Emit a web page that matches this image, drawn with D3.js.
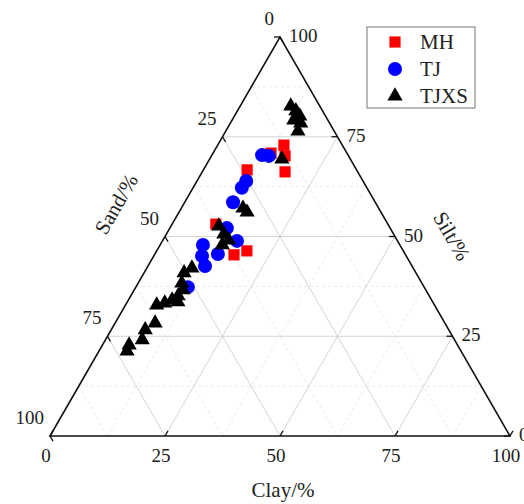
<!DOCTYPE html>
<html>
<head>
<meta charset="utf-8">
<script src="https://cdn.jsdelivr.net/npm/d3@7"></script>
<style>
    body { margin: 0; background: #fff; }
    svg text { font-family: "Liberation Serif", "DejaVu Serif", serif; fill: #222; }
</style>
</head>
<body>
<div id="ternary"></div>
<script>
// sample values (percent)
const mhClay = [14.4, 16.0, 18.0, 12.6, 9.5, 9.5, 17.3, 19.6];
const mhSilt = [72.9, 70.2, 66.2, 70.9, 66.7, 53.1, 45.4, 46.4];
const mhSand = [12.7, 13.8, 15.8, 16.5, 23.8, 37.4, 37.3, 34.0];

const tjClay = [10.9, 12.5, 10.7, 10.6, 10.5, 12.4, 16.2, 9.3, 10.5, 12.4, 13.7, 11.3];
const tjSilt = [70.4, 70.2, 63.9, 62.2, 58.6, 52.1, 48.9, 47.9, 45.1, 42.6, 45.6, 37.3];
const tjSand = [18.7, 17.3, 25.4, 27.2, 30.9, 35.5, 34.9, 42.8, 44.4, 45.0, 40.7, 51.4];

const tjxsClay = [11.0, 12.7, 14.2, 13.4, 15.3, 15.7, 15.7, 13.4, 14.8, 10.4, 12.5, 14.3, 13.5, 9.8,
    8.7, 9.5, 10.6, 10.3, 9.5, 11.0, 8.3, 6.8, 8.7, 7.4, 8.0, 5.8, 6.1];
const tjxsSilt = [82.7, 81.5, 80.2, 79.2, 78.4, 76.4, 69.4, 57.1, 56.1, 52.6, 50.6, 49.1, 47.9, 42.1,
    40.9, 38.3, 36.6, 35.1, 34.1, 33.6, 33.3, 32.8, 28.3, 26.6, 24.1, 22.8, 21.3];
const tjxsSand = [6.3, 5.8, 5.6, 7.4, 6.3, 7.9, 14.9, 29.5, 29.1, 37.0, 36.9, 36.6, 38.6, 48.1,
    50.4, 52.2, 52.8, 54.6, 56.4, 55.4, 58.4, 60.4, 63.0, 66.0, 67.9, 71.4, 72.6];

const seriesNames = ["MH", "TJ", "TJXS"];
const tickValues = [0, 25, 50, 75, 100];
const axisTitles = ["Clay/%", "Sand/%", "Silt/%"];


class TernaryPlot {

    constructor(parentElement) {
        this.parentElement = parentElement;
        this.colors = ["#ff0000", "#0000ff", "#000000"];
        this.initVis();
    }

    initVis() {
        let vis = this;

        vis.width = 524;
        vis.height = 504;

        vis.svg = d3.select("#" + vis.parentElement).append("svg")
            .attr("width", vis.width)
            .attr("height", vis.height);

        // u = clay + silt/2 along the base, v = silt up the height
        vis.x = d3.scaleLinear().domain([0, 100]).range([50, 510]);
        vis.y = d3.scaleLinear().domain([0, 100]).range([436, 37]);

        vis.point = (clay, silt, sand) => {
            let tot = clay + silt + sand;
            let c = clay / tot * 100, s = silt / tot * 100;
            return [vis.x(c + s / 2), vis.y(s)];
        };

        vis.gridGroup = vis.svg.append("g").attr("class", "grid");
        vis.axisGroup = vis.svg.append("g").attr("class", "axes");
        vis.dataGroup = vis.svg.append("g").attr("class", "points");
        vis.legendGroup = vis.svg.append("g").attr("class", "legend");

        vis.wrangleData();
    }

    wrangleData() {
        let vis = this;

        let lists = [[mhClay, mhSilt, mhSand], [tjClay, tjSilt, tjSand], [tjxsClay, tjxsSilt, tjxsSand]];
        vis.displayData = [];
        lists.forEach((arr, si) => {
            arr[0].forEach((c, i) => {
                vis.displayData.push({ series: si, clay: c, silt: arr[1][i], sand: arr[2][i] });
            });
        });

        vis.updateVis();
    }

    drawGrid() {
        let vis = this;
        let line = d3.line();
        let vals = d3.range(12.5, 100, 12.5);

        vals.forEach(v => {
            let major = v % 25 === 0;
            let segs = [
                [vis.point(0, v, 100 - v), vis.point(100 - v, v, 0)],   // silt const
                [vis.point(v, 0, 100 - v), vis.point(v, 100 - v, 0)],   // clay const
                [vis.point(0, 100 - v, v), vis.point(100 - v, 0, v)]    // sand const
            ];
            segs.forEach(s => {
                vis.gridGroup.append("path")
                    .attr("d", line(s))
                    .attr("fill", "none")
                    .attr("stroke", major ? "#cfcfcf" : "#e2e2e2")
                    .attr("stroke-width", major ? 0.9 : 0.8)
                    .attr("stroke-dasharray", major ? null : "3,3");
            });
        });
    }

    drawAxes() {
        let vis = this;
        let line = d3.line();
        let BL = vis.point(0, 0, 100), BR = vis.point(100, 0, 0), T = vis.point(0, 100, 0);

        vis.axisGroup.append("path")
            .attr("d", line([BL, BR, T]) + "Z")
            .attr("fill", "none")
            .attr("stroke", "#111")
            .attr("stroke-width", 1.6)
            .attr("stroke-linejoin", "miter");

        let tl = 6;
        let c60 = 0.5 * tl, s60 = Math.sqrt(3) / 2 * tl;

        tickValues.forEach(v => {
            // clay on the base
            let pc = vis.point(v, 0, 100 - v);
            vis.axisGroup.append("line")
                .attr("x1", pc[0]).attr("y1", pc[1])
                .attr("x2", pc[0] + c60).attr("y2", pc[1] - s60)
                .attr("stroke", "#111").attr("stroke-width", 1.3);
            vis.axisGroup.append("text")
                .attr("x", pc[0] - 4).attr("y", pc[1] + 26)
                .attr("text-anchor", "middle")
                .attr("font-size", 19)
                .text(v);

            // sand on the left
            let ps = vis.point(0, 100 - v, v);
            vis.axisGroup.append("line")
                .attr("x1", ps[0]).attr("y1", ps[1])
                .attr("x2", ps[0] + c60).attr("y2", ps[1] + s60)
                .attr("stroke", "#111").attr("stroke-width", 1.3);
            vis.axisGroup.append("text")
                .attr("x", ps[0] - 6).attr("y", ps[1] - 12)
                .attr("text-anchor", "end")
                .attr("font-size", 19)
                .text(v);

            // silt on the right
            let pt = vis.point(100 - v, v, 0);
            vis.axisGroup.append("line")
                .attr("x1", pt[0]).attr("y1", pt[1])
                .attr("x2", pt[0] - tl).attr("y2", pt[1])
                .attr("stroke", "#111").attr("stroke-width", 1.3);
            vis.axisGroup.append("text")
                .attr("x", pt[0] + 9).attr("y", pt[1] + 5)
                .attr("text-anchor", "start")
                .attr("font-size", 19)
                .text(v);
        });

        // axis titles
        vis.axisGroup.append("text")
            .attr("x", 283).attr("y", 497)
            .attr("text-anchor", "middle")
            .attr("font-size", 21)
            .text(axisTitles[0]);

        vis.axisGroup.append("text")
            .attr("transform", "translate(116,204) rotate(-60)")
            .attr("text-anchor", "middle")
            .attr("dy", "0.35em")
            .attr("font-size", 21)
            .text(axisTitles[1]);

        vis.axisGroup.append("text")
            .attr("transform", "translate(452,236) rotate(60)")
            .attr("text-anchor", "middle")
            .attr("dy", "0.35em")
            .attr("font-size", 21)
            .text(axisTitles[2]);
    }

    marker(sel, si) {
        let vis = this;
        if (si === 0) {
            sel.append("path").attr("d", d3.symbol(d3.symbolSquare, 125)());
        } else if (si === 1) {
            sel.append("circle").attr("r", 7);
        } else {
            sel.append("path").attr("d", d3.symbol(d3.symbolTriangle, 100)());
        }
        sel.attr("fill", vis.colors[si]);
    }

    updateVis() {
        let vis = this;

        vis.drawGrid();
        vis.drawAxes();

        // points, one group per sample
        let pts = vis.dataGroup.selectAll(".pt")
            .data(vis.displayData)
            .enter()
            .append("g")
            .attr("class", "pt")
            .attr("transform", d => {
                let p = vis.point(d.clay, d.silt, d.sand);
                return "translate(" + p[0] + "," + p[1] + ")";
            });
        pts.each(function (d) {
            vis.marker(d3.select(this), d.series);
        });

        // legend
        vis.legendGroup.append("rect")
            .attr("x", 367).attr("y", 27)
            .attr("width", 108).attr("height", 81)
            .attr("fill", "#fff")
            .attr("stroke", "#777")
            .attr("stroke-width", 1);

        seriesNames.forEach((name, i) => {
            let g = vis.legendGroup.append("g")
                .attr("transform", "translate(395," + (42 + i * 27) + ")");
            vis.marker(g, i);
            vis.legendGroup.append("text")
                .attr("x", 420).attr("y", 42 + i * 27 + 7)
                .attr("font-size", 21)
                .text(name);
        });
    }
}

new TernaryPlot("ternary");
</script>
</body>
</html>
